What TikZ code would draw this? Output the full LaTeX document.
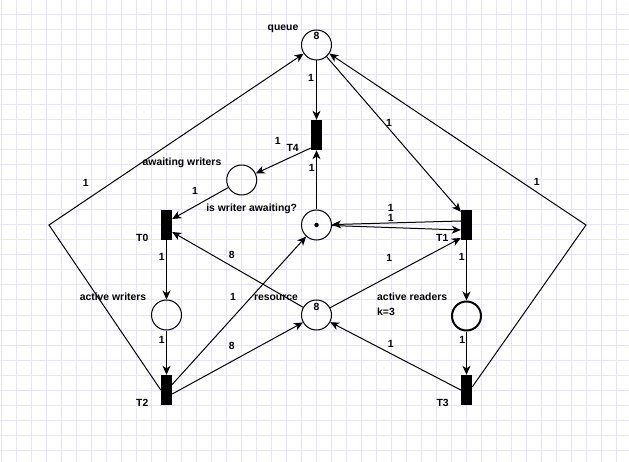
\documentclass[tikz,border=0pt]{standalone}
\usepackage{fontspec}
\setmainfont{Liberation Sans}
\usetikzlibrary{arrows.meta,calc}
\definecolor{gridc}{RGB}{230,228,252}
\begin{document}
\begin{tikzpicture}[x=1pt,y=-1pt,
  place/.style={circle,draw,line width=1pt,minimum size=30pt,inner sep=0pt},
  trans/.style={rectangle,fill=black,draw=none,minimum width=11pt,minimum height=30pt,inner sep=0pt},
  arc/.style={draw,line width=1pt,-{Stealth[length=9pt,width=8pt,inset=2.7pt]}},
  lbl/.style={anchor=base,inner sep=0pt,font=\fontsize{10.4}{12}\selectfont\bfseries},
  lbll/.style={lbl,anchor=base west},
  ]
% canvas and grid
\fill[white] (0,0) rectangle (629,462);
\useasboundingbox (0,0) rectangle (629,462);
\foreach \gx in {1,16,...,616} \draw[gridc,line width=1pt] (\gx,0) -- (\gx,462);
\foreach \gy in {0,15,...,450} \draw[gridc,line width=1pt] (0,\gy) -- (629,\gy);

% places
\node[place] (queue) at (316.5,45) {};
\node[place] (aw) at (241.7,180) {};
\node[place] (iwa) at (316.5,225) {};
\node[place] (aws) at (166.5,315) {};
\node[place] (res) at (316.5,315) {};
\node[place,line width=2pt,minimum size=29pt] (ar) at (466.5,316) {};
\node[circle,fill=black,inner sep=0pt,minimum size=4.5pt] (tok) at (iwa) {};

% transitions
\node[trans] (T4) at (316.5,135) {};
\node[trans] (T0) at (166.5,225) {};
\node[trans] (T1) at (466.5,225) {};
\node[trans] (T2) at (166.5,390) {};
\node[trans] (T3) at (466.5,390) {};

% bend points of the return arcs
\coordinate (wl) at (49,225);
\coordinate (wr) at (586,225);

% arcs
\path[arc] (queue) -- (T4);
\path[arc] ($(T4.west)+(0,13)$) -- (aw);
\path[arc] (aw) -- ($(T0.east)+(0,-6)$);
\path[arc] (iwa) -- (T4);
\path[arc] (queue) -- ($(T1.north west)+(0,2)$);
\path[arc] ($(T1.west)+(0,-4)$) -- (iwa);
\path[arc] (iwa) -- ($(T1.west)+(0,5)$);
\path[arc] (res) -- ($(T0.east)+(0,7)$);
\path[arc] (T0) -- (aws);
\path[arc] (aws) -- (T2);
\path[arc] ($(T2.east)+(0,-5.5)$) -- (iwa);
\path[arc] ($(T2.east)+(0,4)$) -- (res);
\path[arc] (res) -- ($(T1.west)+(0,13)$);
\path[arc] (T1) -- (ar);
\path[arc] (ar) -- (T3);
\path[arc] (T3.west) -- (res);
\path[arc] (T2.west) -- (wl) -- (queue);
\path[arc] ($(T3.east)+(0,-3)$) -- (wr) -- (queue);

% place and transition names
\node[lbl] (nq) at (283,31) {queue};
\node[lbl] (nq8) at (316.5,39.7) {8};
\node[lbl] (nr8) at (316.5,310.4) {8};
\node[lbl] (naw) at (182,166) {awaiting writers};
\node[lbl] (niwa) at (251.7,211.5) {is writer awaiting?};
\node[lbl] (naws) at (113,301) {active writers};
\node[lbl] (nres) at (276,301) {resource};
\node[lbll] (nar) at (377,301) {active readers};
\node[lbll] (nk) at (377,315.4) {k=3};
\node[lbl] (nT4) at (292.7,151.4) {T4};
\node[lbl] (nT0) at (142.3,241.4) {T0};
\node[lbl] (nT1) at (442.3,241.4) {T1};
\node[lbl] (nT2) at (142.3,406.4) {T2};
\node[lbl] (nT3) at (442.7,406.4) {T3};

% arc weights
\node[lbl] (w1) at (311,81.7) {1};
\node[lbl] (w2) at (277.7,144.4) {1};
\node[lbl] (w3) at (311.7,172) {1};
\node[lbl] (w4) at (195,194.4) {1};
\node[lbl] (w5) at (85.7,186.4) {1};
\node[lbl] (w6) at (536.7,186) {1};
\node[lbl] (w7) at (389,127) {1};
\node[lbl] (w8) at (390.7,211.3) {1};
\node[lbl] (w9) at (390.7,221.3) {1};
\node[lbl] (w10) at (161.7,261) {1};
\node[lbl] (w11) at (231.7,258.7) {8};
\node[lbl] (w12) at (233,301) {1};
\node[lbl] (w13) at (161.7,343) {1};
\node[lbl] (w14) at (231.7,349) {8};
\node[lbl] (w15) at (389.3,262) {1};
\node[lbl] (w16) at (461.7,261) {1};
\node[lbl] (w17) at (390.7,347.7) {1};
\node[lbl] (w18) at (462.3,343) {1};
\end{tikzpicture}
\end{document}
